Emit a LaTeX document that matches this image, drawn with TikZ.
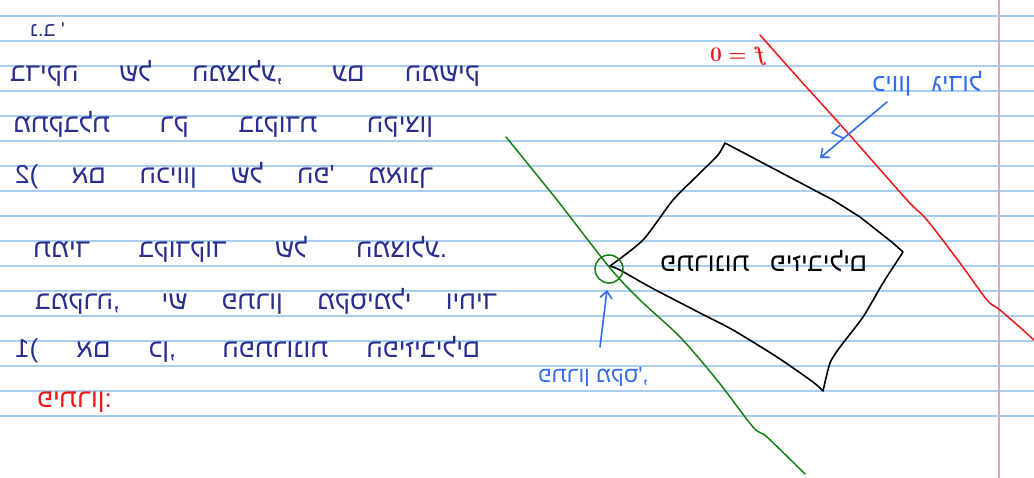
\documentclass[tikz,border=0pt]{standalone}
\usepackage{fontspec}
\usepackage{graphicx}
\usetikzlibrary{arrows.meta}
\TeXXeTstate=1
\newfontfamily\heb[Script=Hebrew]{Liberation Sans}
\definecolor{ink}{RGB}{42,46,140}
\definecolor{rulecol}{RGB}{168,206,242}
\definecolor{margcol}{RGB}{214,170,188}
\definecolor{pred}{RGB}{238,24,24}
\definecolor{pgreen}{RGB}{24,128,24}
\definecolor{pblue}{RGB}{52,108,238}
% mirrored line: width, size, text
\newcommand{\mirline}[3]{\reflectbox{\makebox[#1][s]{\fontsize{#2}{#2}\heb #3}}}
\newcommand{\mirtext}[2]{\reflectbox{\fontsize{#1}{#1}\heb #2}}
\tikzset{
  ruleline/.style={rulecol, line width=1.2pt},
  note/.style={inner sep=0pt, anchor=base west, text=ink},
  pen/.style={line width=1.6pt, line cap=round, line join=round},
  bluearrow/.style={pen, pblue, -{Straight Barb[length=7pt,width=12pt,line width=1.6pt]}}
}
\begin{document}
\begin{tikzpicture}[x=1pt,y=-1pt]
\useasboundingbox (0,0) rectangle (1034,478);
\fill[white] (0,0) rectangle (1034,478);
\foreach \k in {0,...,16} \draw[ruleline] (0,{16+25*\k}) -- (1034,{16+25*\k});
\draw[margcol, line width=1.4pt] (999,0) -- (999,478);

% left notes
\node[note] (l1) at (30,37) {\mirtext{20pt}{\beginR נ.ב '\endR}};
\node[note] (l2) at (10,82) {\mirline{470pt}{26pt}{\beginR בדיקה של המצולע, עם המשיק\endR}};
\node[note] (l3) at (13,133) {\mirline{420pt}{26pt}{\beginR מתקבלת רק בנקודת הקיצון\endR}};
\node[note] (l4) at (15,184) {\mirline{418pt}{26pt}{\beginR 2( אם הכיוון של הפ' מאונך\endR}};
\node[note] (l5) at (33,258) {\mirline{414pt}{26pt}{\beginR תמיד בקודקוד של המצולע.\endR}};
\node[note] (l6) at (35,310) {\mirline{462pt}{26pt}{\beginR במקרה, יש פתרון מקסימלי ויחיד\endR}};
\node[note] (l7) at (15,358) {\mirline{465pt}{26pt}{\beginR 1( אם כן, הפתרונות הפיזיבילים\endR}};
\node[note, text=pred] (l8) at (37,407) {\mirtext{26pt}{\beginR פיתרון:\endR}};

% green support line
\draw[pgreen, line width=1.5pt, line cap=round] plot[smooth, tension=0.5] coordinates {(506,137) (557,200) (610,268) (640,300) (680,337) (717,380) (753,427) (767,437) (805,474)};

% red level line f=0
\draw[pred, line width=1.5pt, line cap=round] plot[smooth, tension=0.5] coordinates {(760,35) (800,80) (847,132) (907,200) (927,220) (960,263) (987,300) (1000,310) (1023,330) (1036,342)};
\node[inner sep=0pt, anchor=base west, text=pred] (fzero) at (710,62) {\reflectbox{\fontsize{22pt}{22pt}\selectfont\boldmath$f=0$}};

% feasible polygon
\draw[pen, black] plot[smooth, tension=0.4] coordinates {(610,266) (643,240) (673,200) (700,173) (718,155) (725,143)}
  -- (833,200) -- (860,217) -- (893,243) -- (903,252)
  plot[smooth, tension=0.4] coordinates {(903,252) (883,283) (863,317) (840,347) (830,363) (823,391)}
  plot[smooth, tension=0.4] coordinates {(823,391) (813,382) (777,357) (733,330) (700,313) (650,287) (620,270) (610,266)};
\node[inner sep=0pt, anchor=base west] (feas) at (660,272) {\mirline{207pt}{26pt}{\beginR פתרונות פיזיבילים\endR}};

% optimum circle
\node[circle, draw=pgreen, line width=1.5pt, minimum size=28pt, inner sep=0pt] (opt) at (609,269) {};

% labels
\node[inner sep=0pt, anchor=base west, text=pblue] (grow) at (872,92) {\mirline{110pt}{25pt}{\beginR כיוון גידול\endR}};
\node[inner sep=0pt, anchor=base west, text=pblue] (maxlab) at (538,382) {\mirtext{22pt}{\beginR פתרון מקס',\endR}};

% arrows
\coordinate (g1) at (887,102);
\coordinate (g2) at (820,158);
\draw[bluearrow] (g1) -- (g2);
\draw[pen, pblue] (840,125) -- (832,133) -- (843,138);
\coordinate (m1) at (600,347);
\coordinate (m2) at (607,290);
\draw[bluearrow] (m1) -- (m2);
\end{tikzpicture}
\end{document}
